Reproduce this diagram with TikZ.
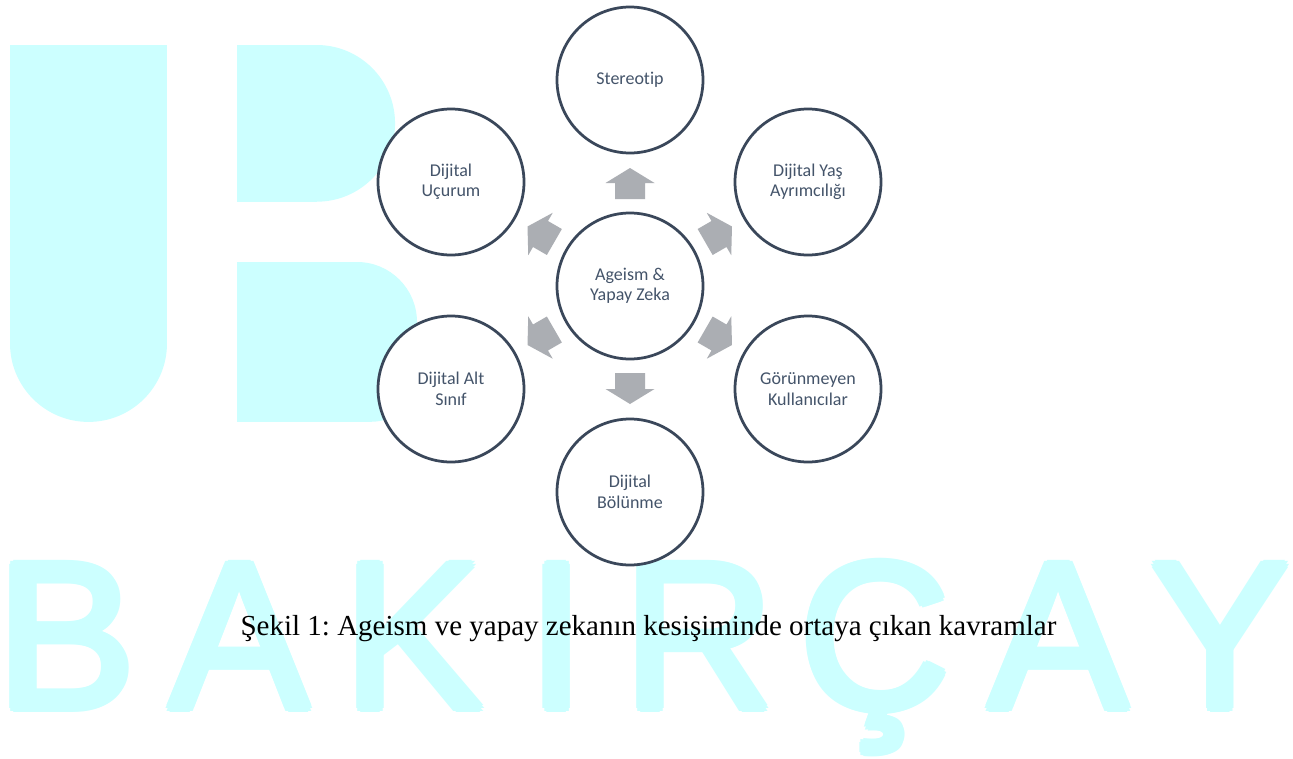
\documentclass[tikz,border=0pt]{standalone}
\usepackage{fontspec}
\usetikzlibrary{calc}
\newfontfamily\cfont[Ligatures=NoCommon]{Carlito}
\newfontfamily\capfont{Liberation Serif}
\newfontfamily\wmfont{Liberation Sans}
\definecolor{wmcyan}{RGB}{204,255,255}
\definecolor{ringc}{RGB}{58,71,90}
\definecolor{txtc}{RGB}{68,84,106}
\definecolor{arrowgray}{RGB}{171,174,179}
\frenchspacing
\begin{document}
\begin{tikzpicture}[x=1pt,y=-1pt,
  concept/.style={circle, draw=ringc, line width=2.75pt, fill=white,
    minimum size=146pt, inner sep=0pt, align=center, text=txtc,
    font=\cfont\fontsize{18}{20.5}\selectfont},
  wmletter/.style={text=wmcyan, anchor=base, inner sep=0pt,
    font=\wmfont\fontsize{209.5}{210}\selectfont},
  wmshape/.style={fill=wmcyan},
  blockarrow/.pic={\fill[arrowgray] (-15,16) -- (15,16) -- (15,0) -- (24.5,0)
    -- (0,-15) -- (-24.5,0) -- (-15,0) -- cycle;}
]
\fill[white] (0,0) rectangle (1293,758);
\useasboundingbox (0,0) rectangle (1293,758);
% watermark logo U
\fill[wmshape] (10,45) rectangle (167,343.4);
\fill[wmshape] (88.5,343.4) circle[radius=78.5pt];
% watermark logo B (upper bowl)
\fill[wmshape] (237,45) rectangle (316.7,201.7);
\fill[wmshape] (316.7,123.35) circle[radius=78.35pt];
% watermark logo B (lower bowl)
\fill[wmshape] (237,262) rectangle (357,421.7);
\fill[wmshape] (357,322) circle[radius=60pt];
\fill[wmshape] (357,322) rectangle (417,376.7);
\fill[wmshape] (372,376.7) circle[radius=45pt];
\fill[wmshape] (357,376.7) rectangle (372,421.7);
% watermark word (thickened by overprinted copies)
\foreach \lx/\lt [count=\i] in {66/B, 239.5/A, 413.5/K, 557/I, 699/R, 875/Ç, 1058.5/A, 1220.5/Y}{
  \foreach \ox/\oy [count=\j] in {0/0, 4/0, -4/0, 0/4, 0/-4, 2.83/2.83, -2.83/2.83, 2.83/-2.83, -2.83/-2.83}{
    \node[wmletter] (wm-\i-\j) at (\lx+\ox, 708.7+\oy) {\lt};
  }
}
% concept circles
\node[concept] (c) at (630,286) {Ageism \&\\Yapay Zeka};
\node[concept] (n1) at (630,80) {Stereotip};
\node[concept] (n2) at (808,182) {Dijital Yaş\\Ayrımcılığı};
\node[concept] (n3) at (808,389) {Görünmeyen\\Kullanıcılar};
\node[concept] (n4) at (630,492) {Dijital\\Bölünme};
\node[concept] (n5) at (451,389) {Dijital Alt\\Sınıf};
\node[concept] (n6) at (451,182) {Dijital\\Uçurum};
% block arrows
\pic at ($(c)!0.5!(n1)$) {blockarrow};
\pic[rotate=-60] at ($(c)!0.5!(n2)$) {blockarrow};
\pic[rotate=-120] at ($(c)!0.5!(n3)$) {blockarrow};
\pic[rotate=180] at ($(c)!0.5!(n4)$) {blockarrow};
\pic[rotate=120] at ($(c)!0.5!(n5)$) {blockarrow};
\pic[rotate=60] at ($(c)!0.5!(n6)$) {blockarrow};
% caption
\node[font=\capfont\fontsize{29}{34}\selectfont, anchor=base, inner sep=0pt] (cap) at (648.5,635)
  {Şekil 1: Ageism ve yapay zekanın kesişiminde ortaya çıkan kavramlar};
\end{tikzpicture}
\end{document}
